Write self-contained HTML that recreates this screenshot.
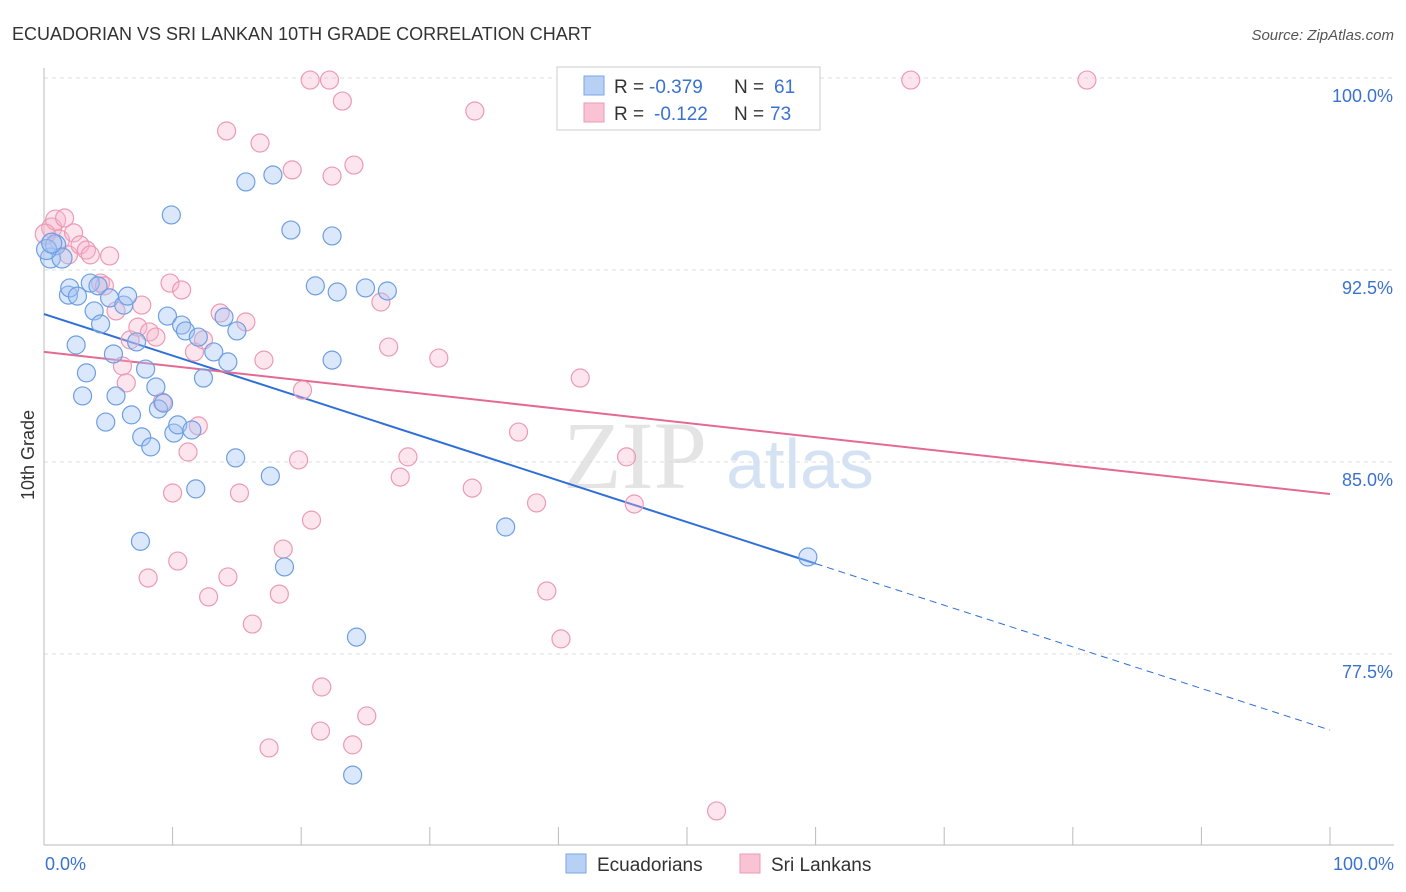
<!DOCTYPE html>
<html><head><meta charset="utf-8"><style>
body{margin:0;background:#fff;font-family:"Liberation Sans",sans-serif;}
#wrap{position:relative;width:1406px;height:892px;overflow:hidden;}
</style></head><body>
<div id="wrap">
<svg id="chart" width="1406" height="892">
<text x="12" y="40" font-size="18" fill="#333">ECUADORIAN VS SRI LANKAN 10TH GRADE CORRELATION CHART</text>
<text x="1394" y="40" font-size="15" fill="#555" font-style="italic" text-anchor="end">Source: ZipAtlas.com</text>
<text x="635" y="488" font-size="96" fill="#e4e4e4" font-family="Liberation Serif,serif" text-anchor="middle">ZIP</text>
<text x="800" y="488" font-size="70" fill="#d5e2f4" text-anchor="middle">atlas</text>
<g id="grid"></g><g id="axes"></g><g id="lines"></g><g id="pts"></g>
<text x="34" y="455" font-size="18" fill="#333" text-anchor="middle" transform="rotate(-90 34 455)">10th Grade</text>
<text x="45" y="870" font-size="18" fill="#3a72d0">0.0%</text>
<text x="1394" y="870" font-size="18" fill="#3a72d0" text-anchor="end">100.0%</text>
<g>
<rect x="557" y="67" width="263" height="63" fill="#fff" stroke="#ccc"/>
<rect x="584" y="76" width="20" height="19" fill="#b8d0f4" stroke="#7aa6e6"/>
<rect x="584" y="103" width="20" height="19" fill="#f8c4d4" stroke="#ec9ab6"/>
<text x="614" y="93" font-size="19" fill="#333">R =</text>
<text x="649" y="93" font-size="19" fill="#3a72d0">-0.379</text>
<text x="734" y="93" font-size="19" fill="#333">N =</text>
<text x="774" y="93" font-size="19" fill="#3a72d0">61</text>
<text x="614" y="120" font-size="19" fill="#333">R =</text>
<text x="654" y="120" font-size="19" fill="#3a72d0">-0.122</text>
<text x="734" y="120" font-size="19" fill="#333">N =</text>
<text x="770" y="120" font-size="19" fill="#3a72d0">73</text>
</g>
<g>
<rect x="566" y="854" width="20" height="19" fill="#b8d0f4" stroke="#7aa6e6"/>
<text x="597" y="871" font-size="19" fill="#333">Ecuadorians</text>
<rect x="740" y="854" width="20" height="19" fill="#f8c4d4" stroke="#ec9ab6"/>
<text x="771" y="871" font-size="19" fill="#333">Sri Lankans</text>
</g>
</svg></div>
<script>
const yTicks=[100,92.5,85,77.5];
const yTickLabels=["100.0%","92.5%","85.0%","77.5%"];
const xTicks=[0,10,20,30,40,50,60,70,80,90,100];
const ecuX=[0.5,0.9,1.4,1.9,2.0,2.5,2.6,3.3,3.0,3.6,3.9,4.2,4.4,4.8,5.1,5.4,5.6,6.2,6.5,6.8,7.2,7.6,7.9,8.3,8.7,8.9,9.3,9.6,9.9,10.1,10.4,10.7,11.0,11.5,11.8,12.0,12.4,13.2,14.0,14.3,14.9,15.0,15.7,17.6,17.8,18.7,19.2,21.1,22.4,22.4,22.8,24.3,24.0,25.0,26.7,35.9,59.4,7.5,0.2,0.6];
const ecuY=[92.97,93.48,92.97,91.52,91.8,89.57,91.48,88.48,87.58,91.99,90.9,91.88,90.39,86.56,91.41,89.22,87.58,91.13,91.48,86.84,89.69,85.98,88.63,85.59,87.93,87.07,87.3,90.7,94.65,86.13,86.45,90.35,90.12,86.25,83.95,89.88,88.28,89.3,90.66,88.91,85.16,90.12,95.94,84.45,96.21,80.9,94.06,91.88,93.83,88.98,91.64,78.16,72.77,91.8,91.68,82.46,81.29,81.9,93.3,93.55];
const sriX=[0.6,0.9,1.6,1.2,1.9,2.3,2.8,3.3,3.6,4.4,4.7,5.1,5.6,6.1,6.4,6.7,7.3,7.6,8.2,8.1,8.7,9.2,9.8,10.0,10.4,10.7,11.2,11.7,12.0,12.4,12.8,13.7,14.2,14.3,15.2,15.7,16.2,16.8,17.1,17.5,18.3,18.6,19.3,19.8,20.1,20.7,20.8,21.6,21.5,22.2,22.4,23.2,24.0,24.1,25.1,26.2,26.8,27.7,28.3,30.7,33.3,33.5,36.9,38.3,39.1,40.2,41.7,45.3,45.9,52.3,67.4,81.1,0.1];
const sriY=[94.14,94.45,94.53,93.67,93.09,93.95,93.48,93.28,93.09,91.99,91.88,93.05,90.9,88.75,88.09,89.77,90.27,91.13,90.08,80.47,89.88,87.34,91.99,83.79,81.13,91.72,85.39,89.3,86.41,89.77,79.73,90.82,97.93,80.51,83.79,90.47,78.67,97.46,88.98,73.83,79.84,81.6,96.41,85.08,87.81,99.92,82.73,76.21,74.49,99.92,96.17,99.1,73.95,96.6,75.08,91.25,89.49,84.41,85.2,89.06,83.98,98.71,86.17,83.4,79.96,78.09,88.28,85.2,83.36,71.37,99.92,99.92,93.9];
const ecuTrend=[90.78,-0.1625];
const sriTrend=[89.3,-0.0555];
const ecuSolidEnd=60;
const NS="http://www.w3.org/2000/svg";
const X=v=>44+v*12.86, Y=v=>78+(100-v)*25.6;
function mk(tag,attrs,parent){const e=document.createElementNS(NS,tag);for(const k in attrs)e.setAttribute(k,attrs[k]);document.getElementById(parent).appendChild(e);return e;}
yTicks.forEach((t,i)=>{
 const l=mk('line',{x1:44,x2:1394,y1:Y(t),y2:Y(t),stroke:'#ddd','stroke-dasharray':'4,4'},'grid');
 
 
 const tx=mk('text',{x:1393,y:Y(t)+24,'font-size':18,fill:'#3a72d0','text-anchor':'end'},'grid');
 tx.textContent=yTickLabels[i];
 
 
});
const ax=mk('line',{x1:44,x2:1394,y1:845,y2:845,stroke:'#bbb'},'axes');


const ay=mk('line',{x1:44,x2:44,y1:68,y2:845,stroke:'#bbb'},'axes');


xTicks.forEach(t=>{const l=mk('line',{x1:X(t),x2:X(t),y1:827,y2:845,stroke:'#bbb'},'axes');
 
 });
function pts(xs,ys,fill,stroke,name){xs.forEach((x,i)=>{const r=x<1.5?10:9;
 const c=mk('circle',{cx:X(x),cy:Y(ys[i]),r:r,fill:fill,stroke:stroke,'stroke-width':1.2},'pts');
 
 });}
pts(sriX,sriY,'rgba(246,180,204,0.35)','#ec9ab6','sri-lankan-point');
pts(ecuX,ecuY,'rgba(164,196,244,0.4)','#6d9fe2','ecuadorian-point');
const f=(t,x)=>t[0]+t[1]*x;
const b1=mk('line',{x1:X(0),y1:Y(f(ecuTrend,0)),x2:X(ecuSolidEnd),y2:Y(f(ecuTrend,ecuSolidEnd)),stroke:'#2f6fd6','stroke-width':2},'lines');


const b2=mk('line',{x1:X(ecuSolidEnd),y1:Y(f(ecuTrend,ecuSolidEnd)),x2:X(100),y2:Y(f(ecuTrend,100)),stroke:'#2f6fd6','stroke-width':1,'stroke-dasharray':'7,5'},'lines');


const p1=mk('line',{x1:X(0),y1:Y(f(sriTrend,0)),x2:X(100),y2:Y(f(sriTrend,100)),stroke:'#e46a93','stroke-width':2},'lines');


</script>
</body></html>
